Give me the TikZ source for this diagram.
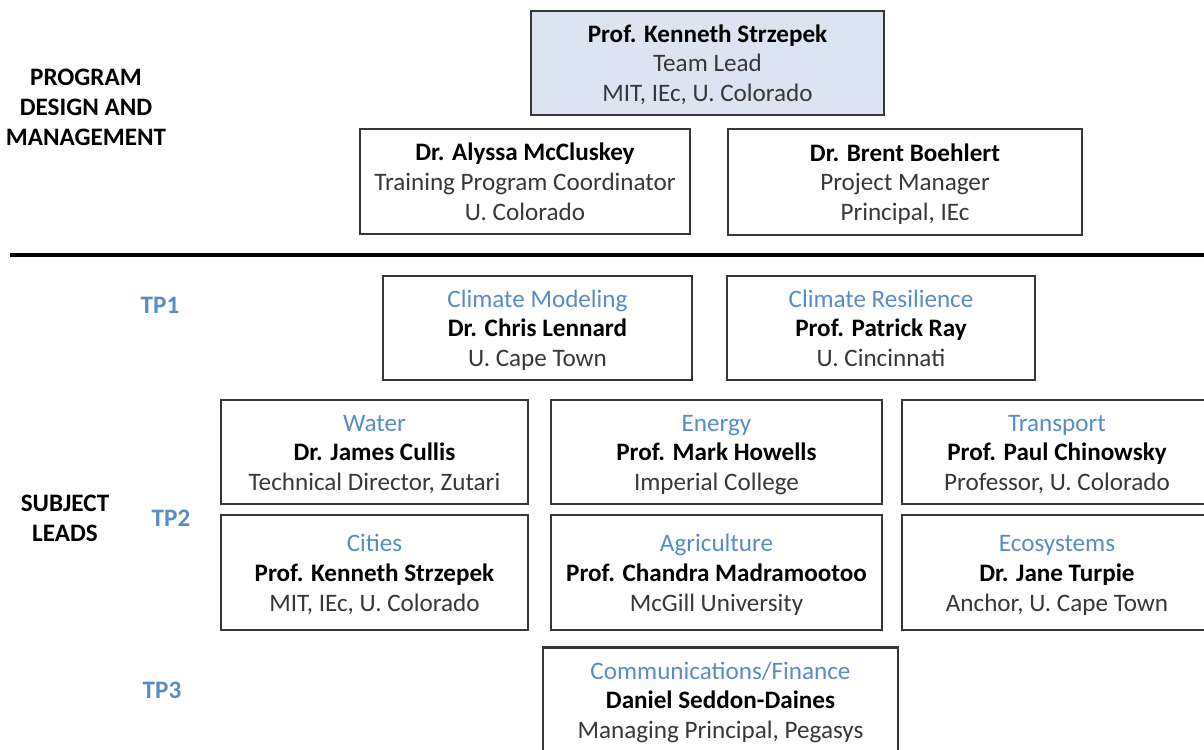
\documentclass[tikz,border=0pt]{standalone}
\usepackage{fontspec}
\setmainfont{Carlito}
\definecolor{fieldblue}{RGB}{88,140,200}
\definecolor{leadfill}{RGB}{220,228,242}
\definecolor{rolegray}{RGB}{55,55,55}
\definecolor{edgegray}{RGB}{55,55,55}
\newcommand{\topstrut}{\rule{0pt}{15.3pt}}
\newcommand{\person}[3]{\topstrut{\bfseries #1}\\\strut{\color{rolegray}#2}\\\strut{\color{rolegray}#3}}
\newcommand{\subject}[3]{\topstrut{\color{fieldblue}#1}\\\strut{\bfseries #2}\\\strut{\color{rolegray}#3}}
\tikzset{
  box/.style={draw=edgegray, line width=1.2pt, rectangle, align=center, inner sep=0pt,
    font=\fontsize{14.3pt}{17pt}\selectfont},
  heading/.style={align=center, font=\fontsize{14.3pt}{17pt}\selectfont\bfseries},
  tplabel/.style={text=fieldblue, font=\fontsize{14.3pt}{17pt}\selectfont\bfseries}
}
\begin{document}
\begin{tikzpicture}[x=0.02cm, y=-0.02cm]
  \useasboundingbox (0,0) rectangle (1204,750);
  % Program design and management
  \node[heading] (pdm) at (86,107) {PROGRAM\\DESIGN AND\\MANAGEMENT};
  \node[box, fill=leadfill, minimum width=7.06cm, minimum height=2.08cm] (lead) at (707.5,63)
    {\person{Prof. Kenneth Strzepek}{Team Lead}{MIT, IEc, U. Colorado}};
  \node[box, minimum width=6.6cm, minimum height=2.1cm] (train) at (525,181.5)
    {\person{Dr. Alyssa McCluskey}{Training Program Coordinator}{U. Colorado}};
  \node[box, minimum width=7.08cm, minimum height=2.12cm] (pm) at (905,182)
    {\person{Dr. Brent Boehlert}{Project Manager}{Principal, IEc}};
  % Divider
  \coordinate (divl) at (10,255);
  \coordinate (divr) at (1210,255);
  \draw[line width=2.4pt] (divl) -- (divr);
  % Subject leads
  \node[heading] (sl) at (65,518) {SUBJECT\\LEADS};
  \node[tplabel] (tp1) at (160,305) {TP1};
  \node[tplabel] (tp2) at (171,518) {TP2};
  \node[tplabel] (tp3) at (162,690) {TP3};
  % TP1
  \node[box, minimum width=6.18cm, minimum height=2.08cm] (model) at (537.5,328)
    {\subject{Climate Modeling}{Dr. Chris Lennard}{U. Cape Town}};
  \node[box, minimum width=6.16cm, minimum height=2.08cm] (resil) at (881,328)
    {\subject{Climate Resilience}{Prof. Patrick Ray}{U. Cincinnati}};
  % TP2
  \node[box, minimum width=6.14cm, minimum height=2.08cm] (water) at (374.5,452)
    {\subject{Water}{Dr. James Cullis}{Technical Director, Zutari}};
  \node[box, minimum width=6.62cm, minimum height=2.08cm] (energy) at (716.5,452)
    {\subject{Energy}{Prof. Mark Howells}{Imperial College}};
  \node[box, minimum width=6.2cm, minimum height=2.08cm] (transp) at (1057,452)
    {\subject{Transport}{Prof. Paul Chinowsky}{Professor, U. Colorado}};
  \node[box, minimum width=6.14cm, minimum height=2.3cm] (cities) at (374.5,572.5)
    {\subject{Cities}{Prof. Kenneth Strzepek}{MIT, IEc, U. Colorado}};
  \node[box, minimum width=6.62cm, minimum height=2.3cm] (agri) at (716.5,572.5)
    {\subject{Agriculture}{Prof. Chandra Madramootoo}{McGill University}};
  \node[box, minimum width=6.2cm, minimum height=2.3cm] (eco) at (1057,572.5)
    {\subject{Ecosystems}{Dr. Jane Turpie}{Anchor, U. Cape Town}};
  % TP3
  \node[box, minimum width=7.1cm, minimum height=2.1cm] (comm) at (720.5,700)
    {\subject{Communications/Finance}{Daniel Seddon-Daines}{Managing Principal, Pegasys}};
\end{tikzpicture}
\end{document}
